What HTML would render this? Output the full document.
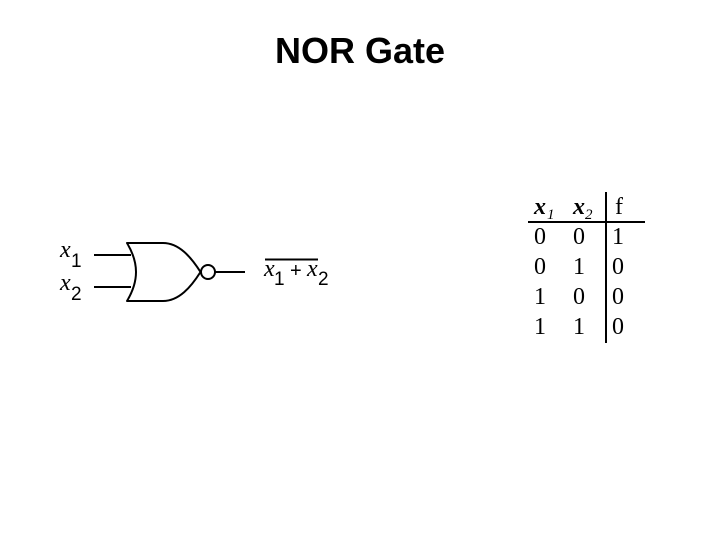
<!DOCTYPE html>
<html>
<head>
<meta charset="utf-8">
<style>
html,body{margin:0;padding:0;background:#fff}
svg{display:block}
.t{font-family:"Liberation Serif",serif;fill:#000}
.s{font-family:"Liberation Sans",sans-serif;fill:#000;font-size:19px}
.x{font-family:"Liberation Serif",serif;font-style:italic;fill:#000;font-size:24px}
</style>
</head>
<body>
<svg width="720" height="540" viewBox="0 0 720 540" xmlns="http://www.w3.org/2000/svg">
<rect width="720" height="540" fill="#fff"/>
<text x="360" y="63" text-anchor="middle" font-family="Liberation Sans,sans-serif" font-weight="bold" font-size="36" fill="#000">NOR Gate</text>

<!-- gate -->
<g fill="none" stroke="#000" stroke-width="2">
<path d="M94 255H131M94 287H131"/>
<path d="M127 243H163C179 243 191 257 200.500 272C191 287 179 301 163 301H127C133 291 136 282 136 272C136 262 133 253 127 243Z" fill="#fff" stroke-linejoin="round"/>
<circle cx="208" cy="272" r="7" fill="#fff"/>
<path d="M215 272H245"/>
<path d="M265 259.500H318"/>
</g>

<!-- labels -->
<text class="x" x="60" y="257">x</text>
<text class="s" x="71" y="267">1</text>
<text class="x" x="60" y="290">x</text>
<text class="s" x="71" y="300">2</text>
<text class="x" x="264" y="276">x</text>
<text class="s" x="274" y="285">1</text>
<text class="s" x="290" y="277" style="font-size:20px">+</text>
<text class="x" x="307" y="276">x</text>
<text class="s" x="318" y="285">2</text>

<!-- table -->
<path d="M606 192V343M528 222H645" stroke="#000" stroke-width="2" fill="none"/>
<g class="t" font-size="24" fill="#000">
<text x="534" y="214" font-style="italic" font-weight="bold">x</text>
<text x="547" y="219" font-size="15" font-style="italic">1</text>
<text x="573" y="214" font-style="italic" font-weight="bold">x</text>
<text x="585" y="219" font-size="15" font-style="italic">2</text>
</g>
<g class="t" font-size="24" text-anchor="middle" fill="#000">
<text x="619" y="214">f</text>
<text x="540" y="244">0</text><text x="579" y="244">0</text><text x="618" y="244">1</text>
<text x="540" y="274">0</text><text x="579" y="274">1</text><text x="618" y="274">0</text>
<text x="540" y="304">1</text><text x="579" y="304">0</text><text x="618" y="304">0</text>
<text x="540" y="334">1</text><text x="579" y="334">1</text><text x="618" y="334">0</text>
</g>
</svg>
</body>
</html>
